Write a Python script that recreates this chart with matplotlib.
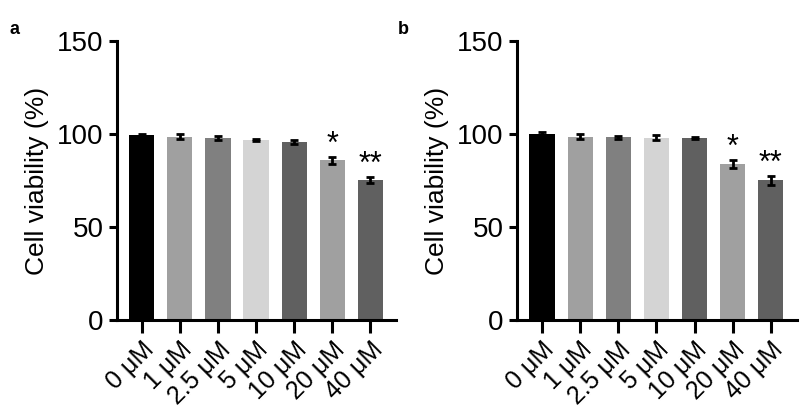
import numpy as np
import matplotlib.pyplot as plt

plt.rcParams['font.family'] = ['Liberation Sans', 'DejaVu Sans']

labels = ["0 μM", "1 μM", "2.5 μM", "5 μM", "10 μM", "20 μM", "40 μM"]
colors = ["#000000", "#a0a0a0", "#808080", "#d4d4d4", "#606060", "#a0a0a0", "#606060"]

viab_a = [99.6, 98.7, 98.0, 96.9, 95.7, 85.8, 75.3]
err_a = [0.5, 1.5, 1.2, 0.7, 1.3, 2.0, 1.5]
stars_a = ["", "", "", "", "", "*", "**"]

viab_b = [100.2, 98.7, 98.4, 98.0, 97.8, 84.0, 75.1]
err_b = [0.8, 1.5, 0.8, 1.3, 0.5, 2.0, 2.5]
stars_b = ["", "", "", "", "", "*", "**"]

fig = plt.figure(figsize=(8, 4.16), dpi=100)
ax_a = fig.add_axes([0.146, 0.231, 0.349, 0.670])
ax_b = fig.add_axes([0.646, 0.231, 0.350, 0.670])


def draw(ax, vals, errs, stars):
    x = np.arange(len(vals))
    ax.bar(x, vals, width=0.66, color=colors)
    ax.errorbar(x, vals, yerr=errs, fmt='none', ecolor='black',
                elinewidth=2, capsize=3, capthick=2)
    for xi, v, e, s in zip(x, vals, errs, stars):
        if s:
            ax.text(xi, v + e - 1.5, s, ha='center', va='bottom', fontsize=22)
    ax.set_xlim(-0.66, 6.68)
    ax.set_ylim(0, 150)
    ax.set_yticks([0, 50, 100, 150])
    ax.set_xticks(x)
    ax.set_xticklabels(labels, rotation=45, ha='right', rotation_mode='anchor')
    ax.set_ylabel("Cell viability (%)", fontsize=19, labelpad=6)
    ax.tick_params(axis='y', labelsize=20, width=2.2, length=6)
    ax.tick_params(axis='x', labelsize=18, width=2.2, length=9)
    for side in ['top', 'right']:
        ax.spines[side].set_visible(False)
    for side in ['left', 'bottom']:
        ax.spines[side].set_linewidth(2.2)


draw(ax_a, viab_a, err_a, stars_a)
draw(ax_b, viab_b, err_b, stars_b)

fig.text(0.012, 0.918, "a", fontsize=13, fontweight='bold')
fig.text(0.497, 0.918, "b", fontsize=13, fontweight='bold')

fig.savefig("out.png", dpi=100)
